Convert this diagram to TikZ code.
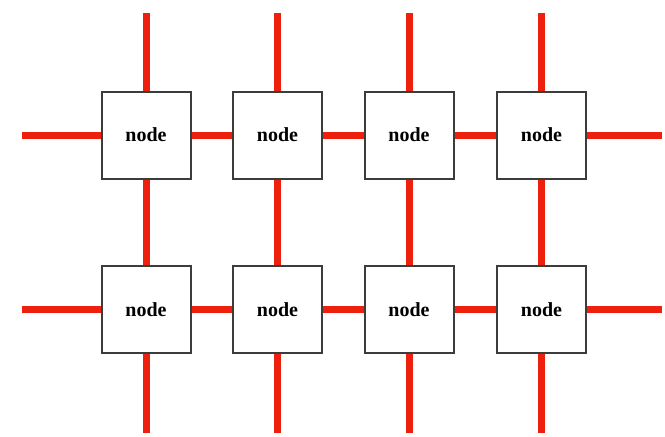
\documentclass[tikz,border=0pt]{standalone}
\usepackage{fontspec}
\setmainfont{Liberation Serif}
\definecolor{wire}{RGB}{236,32,12}
\definecolor{boxline}{RGB}{60,60,60}
\begin{document}
\begin{tikzpicture}[x=1pt,y=-1pt,
  box/.style={draw=boxline,line width=2pt,fill=white,minimum width=89pt,minimum height=87pt,inner sep=0pt,font=\fontsize{20}{24}\selectfont\bfseries},
  wireline/.style={draw=wire,line width=7pt}]
\useasboundingbox (0,0) rectangle (665,437);
% nodes
\foreach \c/\x in {1/146,2/277.5,3/409,4/541.5}{
  \node[box] (n1\c) at (\x,135) {node};
  \node[box] (n2\c) at (\x,309.5) {node};
  \coordinate (t\c) at (\x,13);
  \coordinate (b\c) at (\x,433);
}
\coordinate (l1) at (22,135);
\coordinate (l2) at (22,309.5);
\coordinate (r1) at (662,135);
\coordinate (r2) at (662,309.5);
% connectors
\foreach \c in {1,2,3,4}{
  \path[wireline] (t\c) -- (n1\c.north);
  \path[wireline] (n1\c) -- (n2\c);
  \path[wireline] (n2\c.south) -- (b\c);
}
\foreach \r in {1,2}{
  \path[wireline] (l\r) -- (n\r1.west);
  \path[wireline] (n\r1) -- (n\r2);
  \path[wireline] (n\r2) -- (n\r3);
  \path[wireline] (n\r3) -- (n\r4);
  \path[wireline] (n\r4.east) -- (r\r);
}
\end{tikzpicture}
\end{document}
